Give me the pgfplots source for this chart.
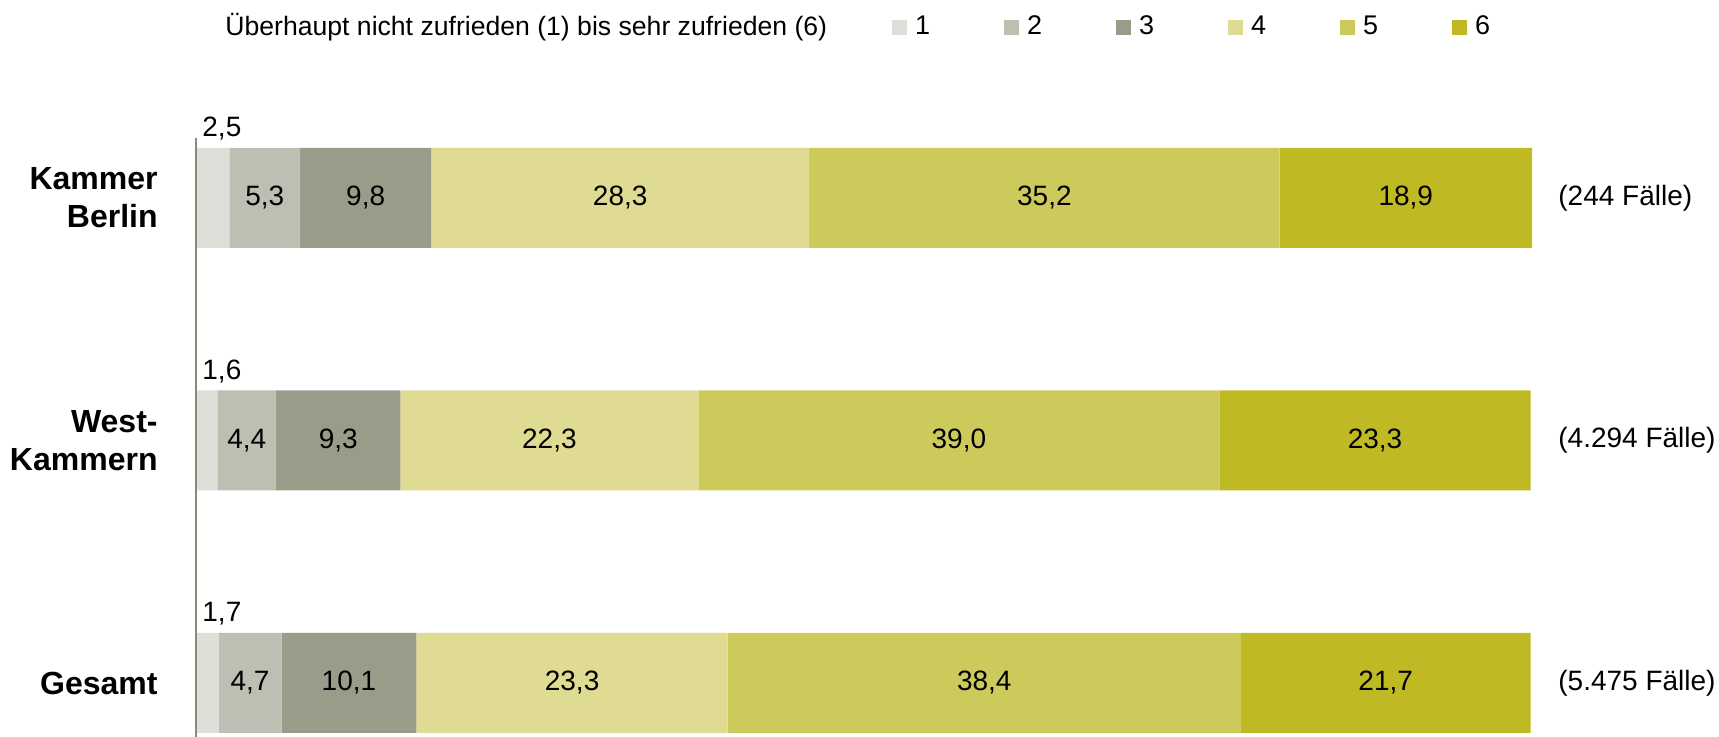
\documentclass[border=0pt]{standalone}
\usepackage{pgfplots}
\pgfplotsset{compat=1.18}
\usepackage{fontspec}
\setmainfont{Liberation Sans}
\definecolor{c1}{HTML}{DEDFD9}
\definecolor{c2}{HTML}{BEBEB3}
\definecolor{c3}{HTML}{9B9B8A}
\definecolor{c4}{HTML}{DFDB93}
\definecolor{c5}{HTML}{CDCA5C}
\definecolor{c6}{HTML}{BFB923}
\definecolor{axcol}{HTML}{8B8A74}
\begin{document}
\begin{tikzpicture}
\begin{axis}[
  name=ax,
  xbar stacked,
  scale only axis,
  width=668pt, height=299.5pt,
  xmin=0, xmax=100,
  ymin=-0.2227, ymax=2.2474,
  bar width=50pt,
  axis line style={draw=none},
  xtick=\empty,
  ytick={0,1,2},
  yticklabels={Gesamt,{West-\\Kammern},{Kammer\\Berlin}},
  yticklabel style={font=\fontsize{16}{19}\selectfont\bfseries, align=right, inner sep=0pt, xshift=-19pt},
  major tick length=0pt,
  tick style={draw=none},
  clip=false,
  sq/.style={legend image code/.code={\fill[##1,draw=none] (0pt,-0.3pt) rectangle (7.5pt,7.2pt);}},
  legend columns=6,
  legend style={draw=none, fill=none, inner sep=0pt, outer sep=0pt,
    at={(axis description cs:0.521,1.1862)}, anchor=west,
    font=\fontsize{13.5}{16}\selectfont,
    cells={anchor=base west},
    /tikz/every odd column/.append style={column sep=4pt},
    /tikz/every even column/.append style={column sep=37pt},
    nodes={inner sep=0pt, outer sep=0pt}},
]
\addplot[fill=c1, draw=none, sq] coordinates {(1.7,0) (1.6,1) (2.5,2)};
\addplot[fill=c2, draw=none, sq] coordinates {(4.7,0) (4.4,1) (5.3,2)};
\addplot[fill=c3, draw=none, sq] coordinates {(10.1,0) (9.3,1) (9.8,2)};
\addplot[fill=c4, draw=none, sq] coordinates {(23.3,0) (22.3,1) (28.3,2)};
\addplot[fill=c5, draw=none, sq] coordinates {(38.4,0) (39.0,1) (35.2,2)};
\addplot[fill=c6, draw=none, sq] coordinates {(21.7,0) (23.3,1) (18.9,2)};
\legend{1,2,3,4,5,6}
\coordinate (ax0) at (axis cs:0,-0.2227);
\coordinate (ax1) at (axis cs:0,2.2474);
\coordinate (s2) at (axis cs:0,2);
\coordinate (s1) at (axis cs:0,1);
\coordinate (s0) at (axis cs:0,0);
\coordinate (k2) at (axis cs:5.15,2);
\coordinate (k3) at (axis cs:12.7,2);
\coordinate (k4) at (axis cs:31.75,2);
\coordinate (k5) at (axis cs:63.5,2);
\coordinate (k6) at (axis cs:90.55,2);
\coordinate (w2) at (axis cs:3.8,1);
\coordinate (w3) at (axis cs:10.65,1);
\coordinate (w4) at (axis cs:26.45,1);
\coordinate (w5) at (axis cs:57.1,1);
\coordinate (w6) at (axis cs:88.25,1);
\coordinate (g2) at (axis cs:4.05,0);
\coordinate (g3) at (axis cs:11.45,0);
\coordinate (g4) at (axis cs:28.15,0);
\coordinate (g5) at (axis cs:59.0,0);
\coordinate (g6) at (axis cs:89.05,0);
\coordinate (f2) at (axis cs:100,2);
\coordinate (f1) at (axis cs:100,1);
\coordinate (f0) at (axis cs:100,0);
\coordinate (tt) at (axis description cs:0,1);
\end{axis}
\draw[axcol, line width=1pt] (ax0) -- (ax1);
\begin{scope}[every node/.style={font=\fontsize{14}{16}\selectfont}]
\node[anchor=base west, inner sep=0pt, xshift=3pt, yshift=30.5pt] at (s2) {2,5};
\node[anchor=base west, inner sep=0pt, xshift=3pt, yshift=30.5pt] at (s1) {1,6};
\node[anchor=base west, inner sep=0pt, xshift=3pt, yshift=30.5pt] at (s0) {1,7};
\node at (k2) {5,3};
\node at (k3) {9,8};
\node at (k4) {28,3};
\node at (k5) {35,2};
\node at (k6) {18,9};
\node at (w2) {4,4};
\node at (w3) {9,3};
\node at (w4) {22,3};
\node at (w5) {39,0};
\node at (w6) {23,3};
\node at (g2) {4,7};
\node at (g3) {10,1};
\node at (g4) {23,3};
\node at (g5) {38,4};
\node at (g6) {21,7};
\node[anchor=west, inner sep=0pt, xshift=13pt] at (f2) {(244 Fälle)};
\node[anchor=west, inner sep=0pt, xshift=13pt] at (f1) {(4.294 Fälle)};
\node[anchor=west, inner sep=0pt, xshift=13pt] at (f0) {(5.475 Fälle)};
\end{scope}
\node[anchor=base west, inner sep=0pt, xshift=14.5pt, yshift=51pt, font=\fontsize{13.3}{16}\selectfont] at (tt) {Überhaupt nicht zufrieden (1) bis sehr zufrieden (6)};
\pgfresetboundingbox
\path[use as bounding box] ([xshift=-98pt]ax.south west) rectangle ([xshift=93.5pt,yshift=69pt]ax.north east);
\end{tikzpicture}
\end{document}
